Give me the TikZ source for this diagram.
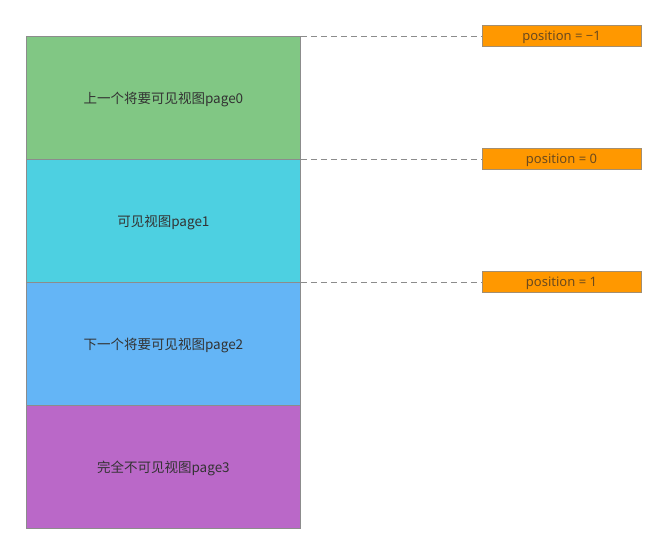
\documentclass[tikz,border=0pt]{standalone}
\usepackage{fontspec}
\setmainfont{Noto Sans CJK SC}
\newfontfamily\latinfont{Noto Sans}
\definecolor{pgreen}{HTML}{81C784}
\definecolor{pcyan}{HTML}{4DD0E1}
\definecolor{pblue}{HTML}{64B5F6}
\definecolor{ppurple}{HTML}{BA68C8}
\definecolor{porange}{HTML}{FF9800}
\definecolor{edgegray}{HTML}{8C8C8C}
\definecolor{txt}{HTML}{333333}
\definecolor{postxt}{HTML}{6B4A1E}
\tikzset{
  pagebox/.style={draw=edgegray, line width=0.8pt, minimum width=274pt, minimum height=123pt, inner sep=0pt},
  pagelabel/.style={text=txt, font=\fontsize{13.5}{16}\selectfont, inner sep=0pt},
  posbox/.style={draw=edgegray!80!porange, line width=0.6pt, fill=porange, minimum width=159pt, minimum height=21pt, inner sep=0pt},
  poslabel/.style={text=postxt, font=\latinfont\fontsize{13}{15}\selectfont, inner sep=0pt},
  guide/.style={draw=edgegray, dashed, dash pattern=on 6pt off 4pt, line width=0.6pt}
}
\begin{document}
\begin{tikzpicture}[x=1pt,y=-1pt]
\useasboundingbox (0,0) rectangle (667,555);
\node[pagebox, fill=pgreen, anchor=north west] (p0) at (26,36) {};
\node[pagebox, fill=pcyan, anchor=north west] (p1) at (26,159) {};
\node[pagebox, fill=pblue, anchor=north west] (p2) at (26,282) {};
\node[pagebox, fill=ppurple, anchor=north west] (p3) at (26,405) {};
\node[pagelabel] (l0) at ([yshift=-2pt]p0.center) {上一个将要可见视图page0};
\node[pagelabel] (l1) at ([yshift=-2pt]p1.center) {可见视图page1};
\node[pagelabel] (l2) at ([yshift=-2pt]p2.center) {下一个将要可见视图page2};
\node[pagelabel] (l3) at ([yshift=-2pt]p3.center) {完全不可见视图page3};
\node[posbox] (a) at (561.5,36) {};
\node[posbox] (b) at (561.5,159) {};
\node[posbox] (c) at (561.5,282) {};
\node[poslabel] (ta) at ([yshift=-1.5pt]a.center) {position = −1};
\node[poslabel] (tb) at ([yshift=-1.5pt]b.center) {position = 0};
\node[poslabel] (tc) at ([yshift=-1.5pt]c.center) {position = 1};
\draw[guide] (p0.north east) -- (a.west);
\draw[guide] (p1.north east) -- (b.west);
\draw[guide] (p2.north east) -- (c.west);
\end{tikzpicture}
\end{document}
